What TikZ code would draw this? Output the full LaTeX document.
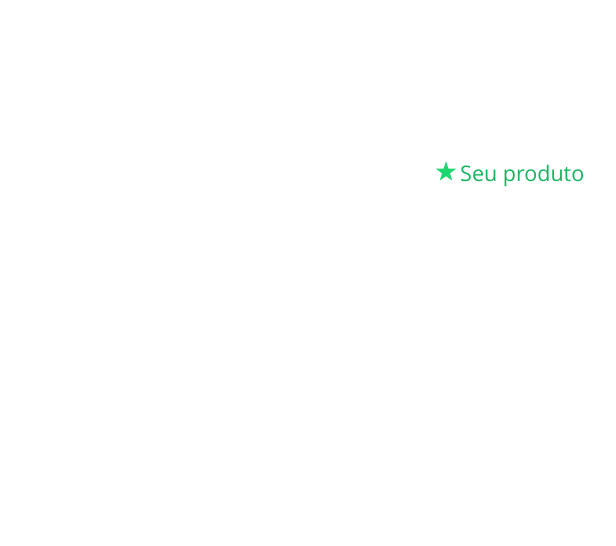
\documentclass[tikz,border=0pt]{standalone}
\usepackage{fontspec}
\setmainfont{Open Sans}
\usetikzlibrary{shapes.geometric,positioning}
\definecolor{stargreen}{HTML}{1ED670}
\definecolor{textgreen}{HTML}{17B45E}
\begin{document}
\begin{tikzpicture}[x=1pt,y=1pt]
\tikzstyle{mark star}=[star, star points=5, star point ratio=2.5, fill=stargreen, draw=none, minimum size=21pt, inner sep=0pt]
\tikzstyle{tx}=[draw=none, fill=none, text=textgreen, inner sep=0pt, anchor=base west, font=\fontsize{21.5}{24}\selectfont]
\useasboundingbox (0,0) rectangle (616,546);

\node[mark star] (S) at (446,374) {};
\node[tx] (P) at (460,364) {Seu produto};
\end{tikzpicture}
\end{document}
